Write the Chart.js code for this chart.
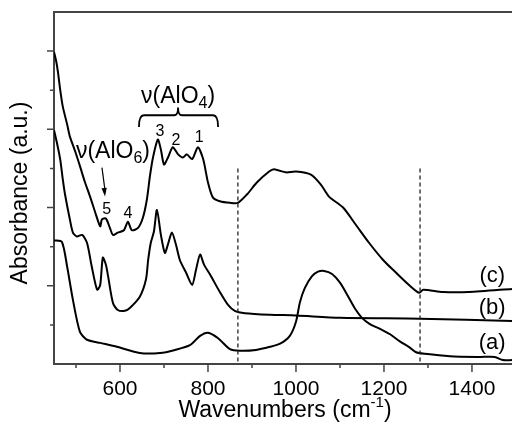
<!DOCTYPE html>
<html lang="en">
<head>
<meta charset="UTF-8">
<title>Absorbance spectra</title>
<script src="https://cdn.jsdelivr.net/npm/chart.js"></script>
<style>
  body { margin: 0; background: #fff; }
</style>
</head>
<body>
<canvas id="spectra" width="512" height="423"></canvas>
<script>
// curve (a)
const waveA = [450, 468, 480, 493, 509, 525, 555, 593, 645, 691, 725, 759, 782, 800, 823, 850, 873, 909, 941, 964, 986, 1000, 1009, 1020, 1036, 1050, 1064, 1082, 1100, 1118, 1134, 1150, 1168, 1191, 1214, 1236, 1259, 1273, 1293, 1350, 1418, 1452, 1470, 1491];
const absA  = [1.58, 1.56, 1.24, 0.82, 0.41, 0.31, 0.27, 0.22, 0.14, 0.14, 0.18, 0.24, 0.36, 0.40, 0.33, 0.19, 0.17, 0.18, 0.22, 0.26, 0.36, 0.54, 0.79, 0.97, 1.12, 1.18, 1.19, 1.15, 1.04, 0.87, 0.71, 0.59, 0.51, 0.45, 0.38, 0.29, 0.21, 0.15, 0.13, 0.10, 0.09, 0.09, 0.05, 0.05];
// curve (b)
const waveB = [450, 455, 464, 470, 475, 486, 493, 502, 514, 525, 536, 548, 555, 561, 568, 573, 584, 595, 611, 623, 645, 659, 664, 670, 677, 684, 693, 702, 709, 718, 727, 736, 750, 764, 773, 782, 791, 805, 827, 845, 861, 884, 941, 1000, 1100, 1282, 1491];
const absB  = [2.99, 2.87, 2.62, 2.36, 2.17, 1.85, 1.68, 1.63, 1.65, 1.55, 1.24, 0.95, 1.01, 1.36, 1.27, 1.12, 0.78, 0.69, 0.68, 0.72, 0.86, 1.08, 1.33, 1.55, 1.69, 1.97, 1.65, 1.42, 1.53, 1.68, 1.53, 1.33, 1.17, 1.01, 1.21, 1.40, 1.27, 1.14, 0.92, 0.76, 0.68, 0.65, 0.63, 0.62, 0.59, 0.58, 0.55];
// curve (c)
const waveC = [450, 455, 459, 464, 470, 480, 486, 498, 509, 520, 532, 543, 555, 559, 568, 577, 584, 595, 609, 618, 627, 641, 652, 661, 668, 675, 686, 693, 700, 709, 720, 732, 743, 752, 764, 777, 789, 800, 811, 827, 850, 868, 889, 911, 939, 950, 977, 1000, 1034, 1057, 1075, 1107, 1136, 1166, 1198, 1227, 1257, 1280, 1289, 1334, 1393, 1491];
const absC  = [3.99, 3.87, 3.73, 3.51, 3.29, 3.06, 2.91, 2.72, 2.53, 2.33, 2.14, 1.95, 1.76, 1.85, 1.86, 1.74, 1.65, 1.68, 1.71, 1.82, 1.71, 1.74, 1.87, 2.10, 2.40, 2.64, 2.87, 2.74, 2.55, 2.64, 2.77, 2.68, 2.64, 2.68, 2.62, 2.77, 2.62, 2.32, 2.13, 2.08, 2.06, 2.06, 2.17, 2.32, 2.46, 2.49, 2.45, 2.46, 2.42, 2.29, 2.14, 2.00, 1.78, 1.55, 1.33, 1.17, 1.01, 0.91, 0.95, 0.92, 0.92, 0.96];

const xMajor = [600, 800, 1000, 1200, 1400];
const xMinor = [500, 700, 900, 1100, 1300];
const yMajor = [1, 2, 3, 4];
const yMinor = [0.5, 1.5, 2.5, 3.5];
const curveLabels = ['(a)', '(b)', '(c)'];
const dashedAt = [868, 1282];

const toPoints = (xs, ys) => xs.map((x, i) => ({ x: x, y: ys[i] }));
const FONT = '"Liberation Sans", Arial, sans-serif';

// text and brace annotations, placed in data units
const annotations = {
  labelPos: [{ x: 1446, y: 0.27 }, { x: 1446, y: 0.72 }, { x: 1446, y: 1.12 }],
  peaks: [
    { t: '3', x: 691, y: 2.97 }, { t: '2', x: 727, y: 2.86 }, { t: '1', x: 780, y: 2.90 },
    { t: '5', x: 570, y: 1.97 }, { t: '4', x: 618, y: 1.92 }
  ]
};

function drawNu(ctx, x, y, sub, size) {
  // draws "ν(AlOn)" centred on x with a subscript digit
  const f = size + 'px ' + FONT, fs = Math.round(size * 0.68) + 'px ' + FONT;
  ctx.font = f;
  const w1 = ctx.measureText('\u03BD(AlO').width;
  const w3 = ctx.measureText(')').width;
  ctx.font = fs;
  const w2 = ctx.measureText(sub).width;
  let sx = x - (w1 + w2 + w3) / 2;
  ctx.textAlign = 'left';
  ctx.textBaseline = 'middle';
  ctx.font = f; ctx.fillText('\u03BD(AlO', sx, y);
  ctx.font = fs; ctx.fillText(sub, sx + w1, y + size * 0.3);
  ctx.font = f; ctx.fillText(')', sx + w1 + w2, y);
}

const decor = {
  id: 'decor',
  afterDatasetsDraw(chart) {
    const { ctx, chartArea, scales: { x, y } } = chart;
    ctx.save();
    ctx.fillStyle = '#000';

    // top frame line
    ctx.strokeStyle = '#444';
    ctx.lineWidth = 2;
    ctx.beginPath();
    ctx.moveTo(chartArea.left, chartArea.top);
    ctx.lineTo(chartArea.right, chartArea.top);
    ctx.stroke();

    // tick marks, major longer than minor, pointing outwards
    ctx.lineWidth = 1.5;
    ctx.beginPath();
    xMajor.forEach(v => { const p = x.getPixelForValue(v); ctx.moveTo(p, chartArea.bottom); ctx.lineTo(p, chartArea.bottom + 8); });
    xMinor.forEach(v => { const p = x.getPixelForValue(v); ctx.moveTo(p, chartArea.bottom); ctx.lineTo(p, chartArea.bottom + 4); });
    yMajor.forEach(v => { const p = y.getPixelForValue(v); ctx.moveTo(chartArea.left, p); ctx.lineTo(chartArea.left - 7, p); });
    yMinor.forEach(v => { const p = y.getPixelForValue(v); ctx.moveTo(chartArea.left, p); ctx.lineTo(chartArea.left - 4, p); });
    ctx.stroke();

    // dashed markers
    ctx.strokeStyle = '#222';
    ctx.lineWidth = 1.3;
    ctx.setLineDash([4, 3]);
    dashedAt.forEach(w => {
      const px = x.getPixelForValue(w);
      ctx.beginPath();
      ctx.moveTo(px, y.getPixelForValue(2.5));
      ctx.lineTo(px, chartArea.bottom);
      ctx.stroke();
    });
    ctx.setLineDash([]);

    // curve labels
    ctx.font = '22px ' + FONT;
    ctx.textAlign = 'center';
    ctx.textBaseline = 'middle';
    curveLabels.forEach((t, i) => {
      const p = annotations.labelPos[i];
      ctx.fillText(t, x.getPixelForValue(p.x), y.getPixelForValue(p.y));
    });

    // peak numbers
    ctx.font = '16px ' + FONT;
    annotations.peaks.forEach(p => {
      ctx.fillText(p.t, x.getPixelForValue(p.x), y.getPixelForValue(p.y));
    });

    // group labels
    drawNu(ctx, x.getPixelForValue(732), y.getPixelForValue(3.42), '4', 23);
    drawNu(ctx, x.getPixelForValue(584), y.getPixelForValue(2.71), '6', 23);

    // brace over the AlO4 bands
    const bl = x.getPixelForValue(643), br = x.getPixelForValue(823), bc = x.getPixelForValue(732);
    const bEnd = y.getPixelForValue(3.03), bMid = y.getPixelForValue(3.18), bTip = y.getPixelForValue(3.28);
    ctx.strokeStyle = '#000';
    ctx.lineWidth = 1.8;
    ctx.beginPath();
    ctx.moveTo(bl, bEnd);
    ctx.quadraticCurveTo(bl, bMid, bl + 5, bMid);
    ctx.lineTo(bc - 4, bMid);
    ctx.quadraticCurveTo(bc, bMid, bc, bTip);
    ctx.quadraticCurveTo(bc, bMid, bc + 4, bMid);
    ctx.lineTo(br - 5, bMid);
    ctx.quadraticCurveTo(br, bMid, br, bEnd);
    ctx.stroke();

    // arrow to band 5
    const ax0 = x.getPixelForValue(559), ay0 = y.getPixelForValue(2.51);
    const ax1 = x.getPixelForValue(566), ay1 = y.getPixelForValue(2.14);
    ctx.lineWidth = 1.2;
    ctx.beginPath();
    ctx.moveTo(ax0, ay0);
    ctx.lineTo(ax1, ay1 - 6);
    ctx.stroke();
    const ang = Math.atan2(ay1 - ay0, ax1 - ax0);
    ctx.beginPath();
    ctx.moveTo(ax1, ay1);
    ctx.lineTo(ax1 - 9 * Math.cos(ang - 0.3), ay1 - 9 * Math.sin(ang - 0.3));
    ctx.lineTo(ax1 - 9 * Math.cos(ang + 0.3), ay1 - 9 * Math.sin(ang + 0.3));
    ctx.closePath();
    ctx.fill();

    // axis titles
    ctx.font = '23px ' + FONT;
    ctx.textAlign = 'left';
    ctx.textBaseline = 'alphabetic';
    const t1 = 'Wavenumbers (cm', t2 = '-1', t3 = ')';
    const w1 = ctx.measureText(t1).width, w3 = ctx.measureText(t3).width;
    ctx.font = '15px ' + FONT;
    const w2 = ctx.measureText(t2).width;
    let tx = (chartArea.left + chartArea.right) / 2 - (w1 + w2 + w3) / 2 + 2;
    const ty = 417;
    ctx.font = '23px ' + FONT; ctx.fillText(t1, tx, ty);
    ctx.font = '15px ' + FONT; ctx.fillText(t2, tx + w1, ty - 10);
    ctx.font = '23px ' + FONT; ctx.fillText(t3, tx + w1 + w2, ty);

    ctx.translate(21, 193);
    ctx.rotate(-Math.PI / 2);
    ctx.textAlign = 'center';
    ctx.textBaseline = 'middle';
    ctx.fillText('Absorbance (a.u.)', 0, 0);
    ctx.restore();
  }
};

const line = (xs, ys) => ({
  data: toPoints(xs, ys),
  borderColor: '#000',
  borderWidth: 2,
  pointRadius: 0,
  tension: 0.25,
  fill: false
});

new Chart(document.getElementById('spectra'), {
  type: 'line',
  data: { datasets: [line(waveA, absA), line(waveB, absB), line(waveC, absC)] },
  options: {
    responsive: false,
    animation: false,
    layout: { padding: { top: 12, right: 0, left: 0, bottom: 0 } },
    plugins: { legend: { display: false }, tooltip: { enabled: false } },
    scales: {
      x: {
        type: 'linear',
        min: 450,
        max: 1491,
        afterBuildTicks: s => { s.ticks = xMajor.map(v => ({ value: v })); },
        afterFit: s => { s.height = 59; },
        border: { color: '#444', width: 2 },
        grid: { display: false },
        ticks: {
          color: '#000',
          font: { family: FONT, size: 21 },
          padding: 5,
          maxRotation: 0,
          autoSkip: false,
          callback: v => String(v)
        }
      },
      y: {
        type: 'linear',
        min: 0,
        max: 4.5,
        afterFit: s => { s.width = 54; },
        border: { color: '#444', width: 2 },
        grid: { display: false },
        ticks: { display: false }
      }
    }
  },
  plugins: [decor]
});
</script>
</body>
</html>
